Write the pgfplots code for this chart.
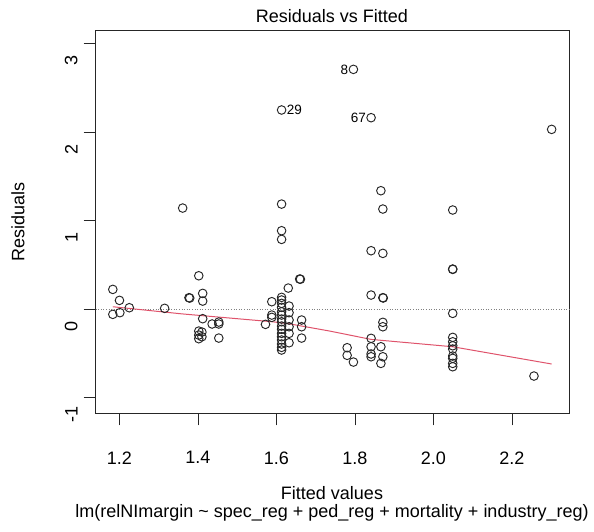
\documentclass[border=0pt]{standalone}
\usepackage{fontspec}
\setmainfont{Liberation Sans}
\usepackage{pgfplots}
\pgfplotsset{compat=1.18}
\definecolor{rred}{HTML}{DF536B}

\begin{document}
\fontsize{18}{21}\selectfont
\begin{tikzpicture}
\begin{axis}[
    scale only axis, width=473.6pt, height=382.6pt,
    anchor=south west, at={(0,0)},
    xmin=1.1394, xmax=2.346, ymin=-1.178, ymax=3.145,
    xtick={1.2,1.4,1.6,1.8,2.0,2.2},
    xticklabels={1.2,1.4,1.6,1.8,2.0,2.2},
    ytick={-1,0,1,2,3},
    yticklabels={-1,0,1,2,3},
    tick align=outside, major tick length=12pt,
    xtick pos=bottom, ytick pos=left,
    tick style={black!85, line width=0.9pt},
    axis line style={black!85, line width=0.9pt},
    xticklabel style={anchor=north, yshift=-20pt},
    yticklabel style={rotate=90, anchor=south, xshift=-17pt},
    clip=false,
]
  \addplot[gray, dotted, line width=0.6pt] coordinates {(1.1394,0) (2.346,0)};
  \addplot[only marks, mark=o, mark size=4.3pt, black!85, mark options={line width=0.95pt}] table {
x y
1.361 1.141
1.613 1.186
1.613 0.885
1.613 0.787
1.402 0.376
1.183 0.222
1.200 0.098
1.225 0.015
1.183 -0.060
1.201 -0.041
1.315 0.008
1.377 0.128
1.379 0.124
1.412 0.177
1.412 0.090
1.412 -0.109
1.402 -0.249
1.402 -0.294
1.402 -0.335
1.410 -0.260
1.410 -0.313
1.436 -0.169
1.453 -0.147
1.453 -0.169
1.453 -0.328
1.588 0.083
1.572 -0.173
1.588 -0.068
1.588 -0.094
1.613 0.132
1.613 0.102
1.613 0.064
1.613 0.019
1.613 -0.031
1.613 -0.068
1.613 -0.113
1.613 -0.144
1.613 -0.192
1.613 -0.229
1.613 -0.275
1.613 -0.313
1.613 -0.350
1.613 -0.395
1.613 -0.433
1.613 -0.463
1.630 0.237
1.632 0.034
1.632 -0.041
1.632 -0.124
1.632 -0.200
1.632 -0.275
1.632 -0.381
1.659 0.339
1.661 0.337
1.664 -0.124
1.664 -0.200
1.664 -0.328
1.871 1.130
2.049 1.119
1.841 0.659
1.871 0.629
2.049 0.452
2.049 0.448
1.841 0.158
1.871 0.128
1.872 0.125
2.049 -0.049
1.871 -0.150
1.871 -0.200
1.841 -0.331
1.780 -0.437
1.780 -0.523
1.796 -0.599
1.841 -0.426
1.841 -0.508
1.841 -0.539
1.866 -0.426
1.871 -0.539
1.866 -0.614
2.049 -0.320
2.049 -0.370
2.049 -0.415
2.049 -0.452
2.049 -0.531
2.049 -0.557
2.049 -0.614
2.049 -0.652
2.256 -0.757
1.796 2.708
1.841 2.162
1.613 2.249
2.301 2.030
1.866 1.337
};
  \addplot[rred, line width=1pt] coordinates {
(1.183,0.026) (1.36,-0.055) (1.588,-0.143) (1.63,-0.165) (1.736,-0.249) (1.841,-0.343) (2.049,-0.426) (2.301,-0.621)};
  \node[anchor=west, font=\fontsize{13.5}{15}\selectfont, inner sep=1pt, xshift=4pt] at (axis cs:1.613,2.249) {29};
  \node[anchor=east, font=\fontsize{13.5}{15}\selectfont, inner sep=1pt, xshift=-4pt] at (axis cs:1.796,2.708) {8};
  \node[anchor=east, font=\fontsize{13.5}{15}\selectfont, inner sep=1pt, xshift=-4pt] at (axis cs:1.841,2.162) {67};
\end{axis}
\node at (236.3pt,397.3pt) {Residuals vs Fitted};
\node at (236.3pt,-79.7pt) {Fitted values};
\node at (236.3pt,-99.7pt) {lm(relNImargin \textasciitilde\ spec\_reg + ped\_reg + mortality + industry\_reg)};
\node[rotate=90] at (-77.7pt,191.3pt) {Residuals};
\pgfresetboundingbox
\path[use as bounding box] (-95.7pt,-117.7pt) rectangle (498.3pt,413.3pt);
\end{tikzpicture}
\end{document}
